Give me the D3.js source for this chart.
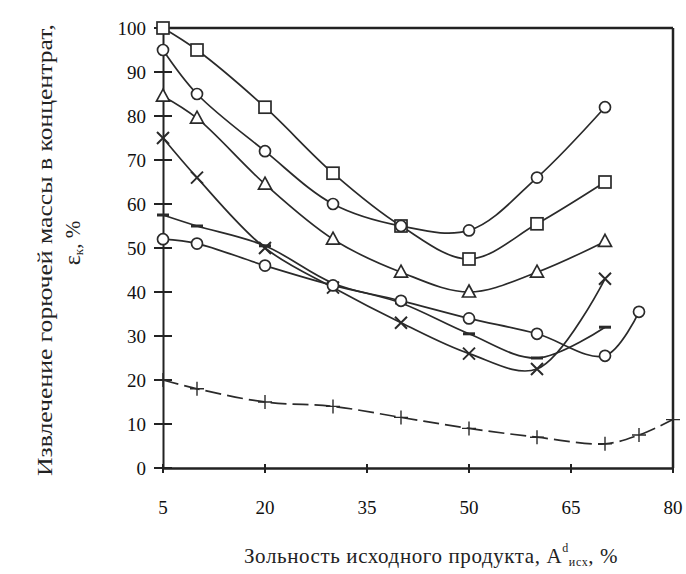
<!DOCTYPE html>
<html>
<meta charset="utf-8">
<style>
  body { margin: 0; background: #fff; }
  text { font-family: "Liberation Serif", serif; }
  .tick-label { font-size: 19px; fill: #111; }
  .axis-title { font-size: 21px; fill: #222; }
</style>
<body>
<div id="chart"></div>
<script src="https://d3js.org/d3.v7.min.js"></script>
<script>
// x values and series
var xTicks = [5, 20, 35, 50, 65, 80];
var yTicks = [0, 10, 20, 30, 40, 50, 60, 70, 80, 90, 100];

var squareX = [5, 10, 20, 30, 40, 50, 60, 70];
var squareY = [100, 95, 82, 67, 55, 47.5, 55.5, 65];

var circleTopX = [5, 10, 20, 30, 40, 50, 60, 70];
var circleTopY = [95, 85, 72, 60, 55, 54, 66, 82];

var triangleX = [5, 10, 20, 30, 40, 50, 60, 70];
var triangleY = [84.5, 79.5, 64.5, 52, 44.5, 40, 44.5, 51.5];

var crossX = [5, 10, 20, 30, 40, 50, 60, 70];
var crossY = [75, 66, 50, 41, 33, 26, 22.5, 43];

var dashX = [5, 10, 20, 30, 40, 50, 60, 70];
var dashY = [57.5, 55, 50.5, 42, 37.5, 30.5, 25, 32];

var circleLowX = [5, 10, 20, 30, 40, 50, 60, 70, 75];
var circleLowY = [52, 51, 46, 41.5, 38, 34, 30.5, 25.5, 35.5];

var plusX = [5, 10, 20, 30, 40, 50, 60, 70, 75, 80];
var plusY = [20, 18, 15, 14, 11.5, 9, 7, 5.5, 7.5, 11];

var margin = {top: 28, right: 13, bottom: 106, left: 163},
    width = 686 - margin.left - margin.right,
    height = 574 - margin.top - margin.bottom;

var svg = d3.select("#chart").append("svg")
    .attr("width", 686).attr("height", 574);
var g = svg.append("g")
    .attr("transform", "translate(" + margin.left + "," + margin.top + ")");

var x = d3.scaleLinear().domain([5, 80]).range([0, width]);
var y = d3.scaleLinear().domain([0, 100]).range([height, 0]);

// frame: top and right
g.append("line").attr("x1", 0).attr("x2", width).attr("y1", 0).attr("y2", 0)
  .attr("stroke", "#222").attr("stroke-width", 2.5);
g.append("line").attr("x1", width).attr("x2", width).attr("y1", 0).attr("y2", height)
  .attr("stroke", "#222").attr("stroke-width", 2.5);

// left axis with crossing ticks
var yAxis = g.append("g").call(d3.axisLeft(y).tickValues(yTicks).tickSize(0).tickFormat(""));
yAxis.select(".domain").attr("stroke", "#222").attr("stroke-width", 2);
g.selectAll(".ytick").data(yTicks).enter().append("line")
  .attr("x1", -9).attr("x2", 9)
  .attr("y1", function(d) { return y(d); }).attr("y2", function(d) { return y(d); })
  .attr("stroke", "#222").attr("stroke-width", 2);
g.selectAll(".ylab").data(yTicks).enter().append("text")
  .attr("class", "tick-label")
  .attr("x", -17).attr("y", function(d) { return y(d); })
  .attr("dy", "0.35em").attr("text-anchor", "end")
  .text(function(d) { return d; });

// bottom axis
var xAxis = g.append("g").attr("transform", "translate(0," + height + ")")
  .call(d3.axisBottom(x).tickValues(xTicks).tickSize(0).tickFormat(""));
xAxis.select(".domain").attr("stroke", "#222").attr("stroke-width", 2.5);
g.selectAll(".xtick").data(xTicks).enter().append("line")
  .attr("x1", function(d) { return x(d); }).attr("x2", function(d) { return x(d); })
  .attr("y1", height - 4).attr("y2", height + 5)
  .attr("stroke", "#222").attr("stroke-width", 2);
g.selectAll(".xlab").data(xTicks).enter().append("text")
  .attr("class", "tick-label")
  .attr("x", function(d) { return x(d); }).attr("y", height + 46)
  .attr("text-anchor", "middle")
  .text(function(d) { return d; });

// axis titles
var xt = svg.append("text").attr("class", "axis-title")
  .attr("x", 431).attr("y", 563).attr("text-anchor", "middle")
  .style("letter-spacing", "0.6px");
xt.append("tspan").text("Зольность исходного продукта, А");
xt.append("tspan").attr("dy", -11).attr("font-size", 12).text("d");
xt.append("tspan").attr("dy", 14).attr("font-size", 12).text("исх");
xt.append("tspan").attr("dy", -3).text(", %");

svg.append("text").attr("class", "axis-title")
  .attr("transform", "translate(52,250) rotate(-90)")
  .attr("text-anchor", "middle")
  .attr("textLength", 452).attr("lengthAdjust", "spacingAndGlyphs")
  .text("Извлечение горючей массы в концентрат,");
var et = svg.append("text").attr("class", "axis-title")
  .attr("transform", "translate(80,243) rotate(-90)")
  .attr("text-anchor", "middle");
et.append("tspan").attr("font-size", 24).text("ε");
et.append("tspan").attr("font-size", 13).attr("dy", 3).text("к");
et.append("tspan").attr("dy", -3).text(", %");

// series
var series = [
  {xs: squareX, ys: squareY, mark: "square", dash: null},
  {xs: circleTopX, ys: circleTopY, mark: "circle", dash: null},
  {xs: triangleX, ys: triangleY, mark: "triangle", dash: null},
  {xs: crossX, ys: crossY, mark: "cross", dash: null},
  {xs: dashX, ys: dashY, mark: "dash", dash: null},
  {xs: circleLowX, ys: circleLowY, mark: "circle", dash: null},
  {xs: plusX, ys: plusY, mark: "plus", dash: "16,6"}
];

var line = d3.line()
  .x(function(d) { return x(d[0]); })
  .y(function(d) { return y(d[1]); })
  .curve(d3.curveCatmullRom.alpha(0.5));

series.forEach(function(s) {
  var pts = s.xs.map(function(v, i) { return [v, s.ys[i]]; });
  g.append("path").datum(pts)
    .attr("d", line)
    .attr("fill", "none")
    .attr("stroke", "#2a2a2a")
    .attr("stroke-width", 1.7)
    .attr("stroke-dasharray", s.dash);

  var m = g.selectAll(null).data(pts).enter().append("g")
    .attr("transform", function(d) { return "translate(" + x(d[0]) + "," + y(d[1]) + ")"; });
  if (s.mark === "square") {
    m.append("rect").attr("x", -6).attr("y", -6).attr("width", 12).attr("height", 12)
      .attr("fill", "#fff").attr("stroke", "#2a2a2a").attr("stroke-width", 1.7);
  } else if (s.mark === "circle") {
    m.append("circle").attr("r", 5.5)
      .attr("fill", "#fff").attr("stroke", "#2a2a2a").attr("stroke-width", 1.7);
  } else if (s.mark === "triangle") {
    m.append("path").attr("d", "M0,-7L6.5,5L-6.5,5Z")
      .attr("fill", "#fff").attr("stroke", "#2a2a2a").attr("stroke-width", 1.7);
  } else if (s.mark === "cross") {
    m.append("path").attr("d", "M-6,-6L6,6M6,-6L-6,6")
      .attr("stroke", "#2a2a2a").attr("stroke-width", 2);
  } else if (s.mark === "dash") {
    m.append("path").attr("d", "M-6,0L6,0")
      .attr("stroke", "#2a2a2a").attr("stroke-width", 3);
  } else if (s.mark === "plus") {
    m.append("path").attr("d", "M-7,0L7,0M0,-7L0,7")
      .attr("stroke", "#2a2a2a").attr("stroke-width", 1.4);
  }
});
</script>
</body>
</html>
